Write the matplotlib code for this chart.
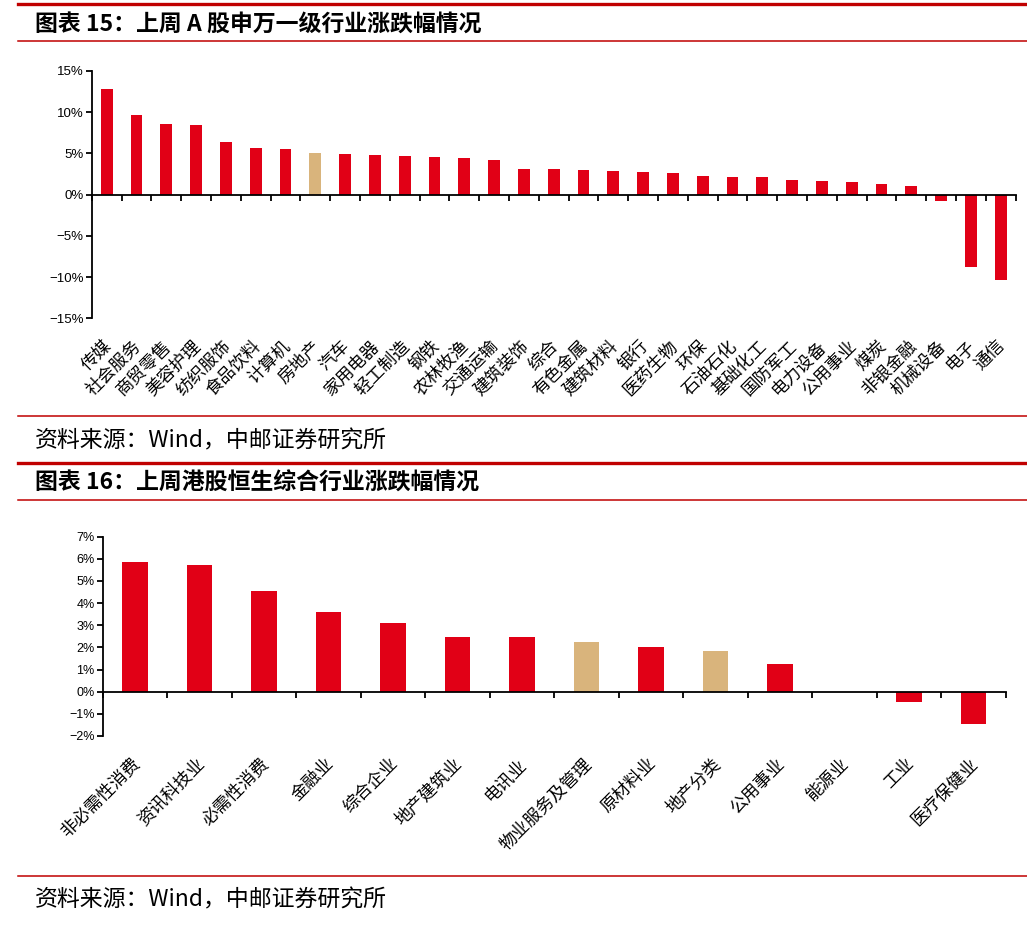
import numpy as np
import matplotlib
matplotlib.use('Agg')
import matplotlib.pyplot as plt
from matplotlib.lines import Line2D
from matplotlib import transforms

plt.rcParams['font.family'] = ['Noto Sans CJK SC', 'DejaVu Sans']

# 上周A股申万一级行业涨跌幅(%)
a_names = ['传媒', '社会服务', '商贸零售', '美容护理', '纺织服饰', '食品饮料', '计算机',
           '房地产', '汽车', '家用电器', '轻工制造', '钢铁', '农林牧渔', '交通运输',
           '建筑装饰', '综合', '有色金属', '建筑材料', '银行', '医药生物', '环保',
           '石油石化', '基础化工', '国防军工', '电力设备', '公用事业', '煤炭',
           '非银金融', '机械设备', '电子', '通信']
a_values = [12.8, 9.66, 8.57, 8.45, 6.39, 5.66, 5.54, 5.05, 4.93, 4.81, 4.69, 4.57,
            4.45, 4.2, 3.08, 3.08, 2.97, 2.85, 2.73, 2.6, 2.24, 2.12, 2.12, 1.76,
            1.64, 1.52, 1.27, 1.03, -0.8, -8.78, -10.39]
a_highlight = '房地产'
a_yticks = [-15, -10, -5, 0, 5, 10, 15]

# 上周港股恒生综合行业涨跌幅(%)
h_names = ['非必需性消费', '资讯科技业', '必需性消费', '金融业', '综合企业', '地产建筑业',
           '电讯业', '物业服务及管理', '原材料业', '地产分类', '公用事业', '能源业',
           '工业', '医疗保健业']
h_values = [5.85, 5.71, 4.53, 3.58, 3.12, 2.48, 2.48, 2.26, 2.03, 1.85, 1.26, 0.0,
            -0.46, -1.45]
h_highlight = ['物业服务及管理', '地产分类']
h_yticks = [-2, -1, 0, 1, 2, 3, 4, 5, 6, 7]

RED = '#E10016'
TAN = '#D9B47C'
LINE_RED = '#C00000'
W, H = 1027, 925


def fx(px):
    return px / W


def fy(py):
    return 1 - py / H


def hline(fig, y, lw):
    fig.add_artist(Line2D([fx(18), 1.0], [fy(y), fy(y)], color=LINE_RED, lw=lw))


def pct(v):
    return f'{v}%'.replace('-', '\u2212')


def draw_bars(fig, rect, names, values, colors, yticks, ysize):
    ax = fig.add_axes(rect)
    x = np.arange(len(names))
    ax.bar(x, values, width=0.4, color=colors, zorder=2)
    ax.set_xlim(-0.5, len(names) - 0.5)
    ax.set_ylim(yticks[0], yticks[-1])
    ax.spines['top'].set_visible(False)
    ax.spines['right'].set_visible(False)
    ax.spines['bottom'].set_position(('data', 0))
    ax.spines['bottom'].set_zorder(3)
    for s in ('left', 'bottom'):
        ax.spines[s].set_linewidth(1.3)
    ax.set_xticks(np.arange(len(names) + 1) - 0.5)
    ax.set_xticklabels([])
    ax.tick_params(axis='x', direction='out', length=4.5, width=1.3)
    ax.set_yticks(yticks)
    ax.set_yticklabels([pct(v) for v in yticks], family='Liberation Sans', fontsize=ysize)
    ax.tick_params(axis='y', direction='out', length=4, width=1.3, pad=2)
    trans = transforms.offset_copy(
        transforms.blended_transform_factory(ax.transData, ax.transAxes),
        fig=fig, x=2, y=-25, units='dots')
    for i, name in enumerate(names):
        ax.text(i, 0, name, transform=trans, rotation=45, rotation_mode='anchor',
                ha='right', va='center', fontsize=12.5)
    return ax


fig = plt.figure(figsize=(W / 100, H / 100), dpi=100)

# 图表15
hline(fig, 4, 2.4)
fig.text(fx(35), fy(24), '图表 15：上周 A 股申万一级行业涨跌幅情况', fontsize=16.5,
         fontweight='bold', va='center')
hline(fig, 41, 1.1)
a_colors = [TAN if n == a_highlight else RED for n in a_names]
draw_bars(fig, [fx(91.8), fy(318.4), fx(1015.6 - 91.8), (318.4 - 71) / H],
          a_names, a_values, a_colors, a_yticks, 9.5)
hline(fig, 416, 1.1)
fig.text(fx(35), fy(441), '资料来源：Wind，中邮证券研究所', fontsize=16.5, va='center')

# 图表16
hline(fig, 463, 2.4)
fig.text(fx(35), fy(483.5), '图表 16：上周港股恒生综合行业涨跌幅情况', fontsize=16.5,
         fontweight='bold', va='center')
hline(fig, 500, 1.1)
h_colors = [TAN if n in h_highlight else RED for n in h_names]
draw_bars(fig, [fx(102.8), fy(736), fx(1005.8 - 102.8), (736 - 536.7) / H],
          h_names, h_values, h_colors, h_yticks, 9)
hline(fig, 876, 1.1)
fig.text(fx(35), fy(900), '资料来源：Wind，中邮证券研究所', fontsize=16.5, va='center')

fig.savefig('out.png', dpi=100)
